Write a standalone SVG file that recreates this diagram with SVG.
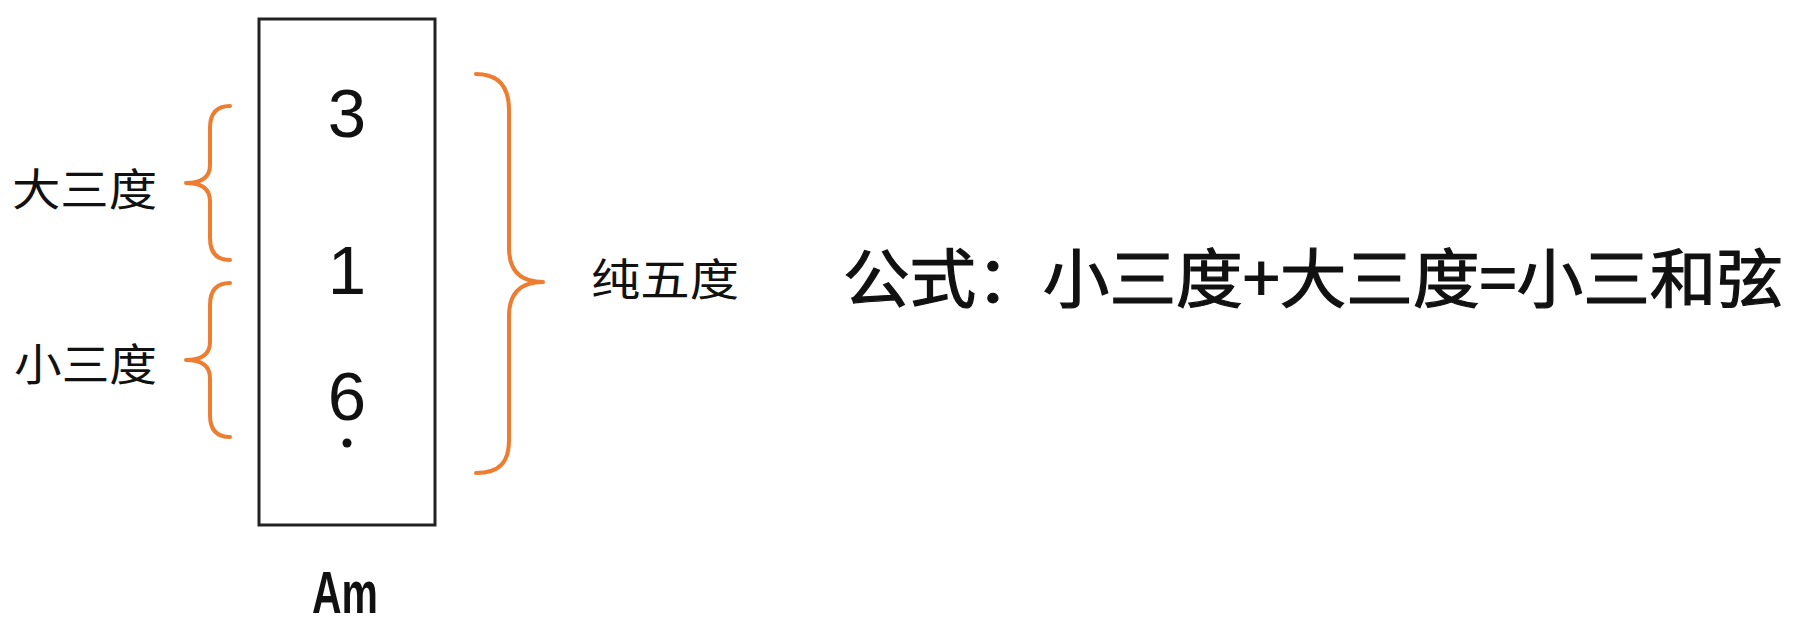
<svg xmlns="http://www.w3.org/2000/svg" width="1814" height="626" viewBox="0 0 1814 626">
<style>
.brace{fill:none;stroke:#ED7D31;stroke-width:4;stroke-linecap:round;stroke-linejoin:round}
.cjk{font-family:"Noto Sans CJK SC","Noto Sans",sans-serif;fill:#111}
.num{font-family:"Liberation Sans",Arial,sans-serif;fill:#111;text-anchor:middle}
</style>
<rect width="1814" height="626" fill="#ffffff"/>
<g id="chord-box">
<rect x="259" y="19" width="176" height="506" fill="none" stroke="#222" stroke-width="3"/>
<text class="num" x="347" y="137" font-size="69">3</text>
<text class="num" x="347" y="294" font-size="69">1</text>
<text class="num" x="347" y="420" font-size="69">6</text>
<circle cx="347" cy="443" r="4.5" fill="#111"/>
</g>
<g id="chord-name">
<text class="num" x="345" y="613" font-size="60" font-weight="bold" textLength="66" lengthAdjust="spacingAndGlyphs">Am</text>
</g>
<g id="braces">
<path class="brace" d="M230,106 C216,106 210,114 210,128 L210,165 C210,178 200,183 186,183 C200,183 210,188 210,201 L210,238 C210,252 216,260 230,260"/>
<path class="brace" d="M230,283 C216,283 210,291 210,305 L210,342 C210,355 200,360 186,360 C200,360 210,365 210,378 L210,415 C210,429 216,437 230,437"/>
<path class="brace" d="M476,74 C500,74 509,88 509,110 L509,248 C509,270 520,282 543,282 C520,282 509,294 509,316 L509,440 C509,462 500,473 476,473"/>
</g>
<g id="label-major-third">
<text class="cjk" x="12" y="206" font-size="44" textLength="145" lengthAdjust="spacingAndGlyphs">大三度</text>
</g>
<g id="label-minor-third">
<text class="cjk" x="14" y="381" font-size="44" textLength="143" lengthAdjust="spacingAndGlyphs">小三度</text>
</g>
<g id="label-fifth">
<text class="cjk" x="591" y="296" font-size="44" textLength="148" lengthAdjust="spacingAndGlyphs">纯五度</text>
</g>
<g id="formula">
<text class="cjk" x="843" y="302" font-size="64" stroke="#111" stroke-width="1.2" textLength="940" lengthAdjust="spacingAndGlyphs">公式：小三度+大三度=小三和弦</text>
</g>
</svg>
